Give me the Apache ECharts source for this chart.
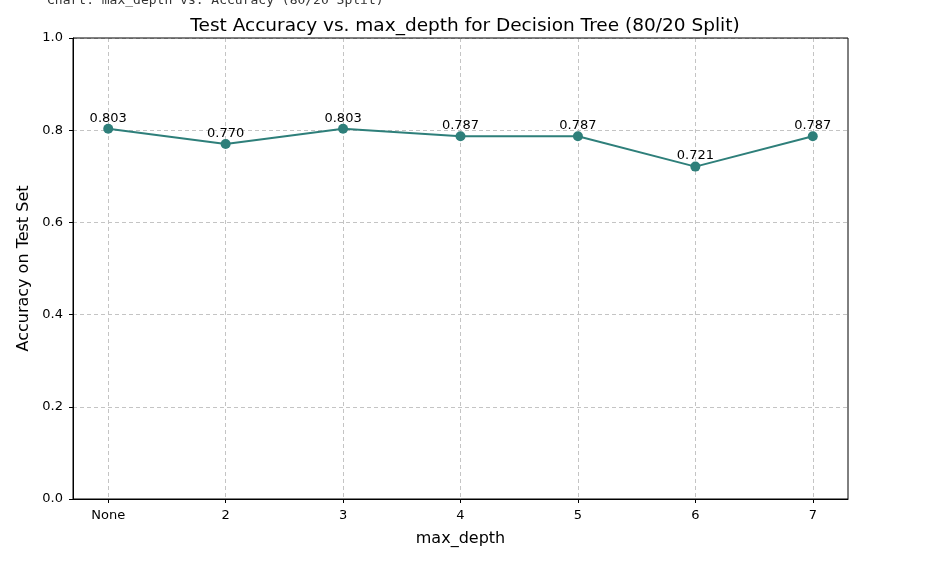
<!DOCTYPE html>
<html>
<head>
<meta charset="utf-8">
<script src="https://cdn.jsdelivr.net/npm/echarts@6/dist/echarts.min.js"></script>
<style>
  html, body { margin: 0; padding: 0; background: #fff; }
  #chart { width: 946px; height: 562px; }
</style>
</head>
<body>
<div id="chart"></div>
<script>
// 类目与数值:max_depth 取值及对应测试集准确率
var categories = ["None", "2", "3", "4", "5", "6", "7"];
var accuracy = [0.803, 0.770, 0.803, 0.787, 0.787, 0.721, 0.787];
var yTicks = [0, 0.2, 0.4, 0.6, 0.8, 1.0];

var LINE = "#2e7f7a";
var FONT = "DejaVu Sans";
var GRID_LINE = { show: true, lineStyle: { color: "#c4c4c4", type: [4, 3], width: 1 } };

var chart = echarts.init(document.getElementById("chart"), null, { renderer: "canvas" });

// 用索引作 x 值,x 轴与 matplotlib 一样留 0.3 的边距
var points = accuracy.map(function (v, i) { return [i, v]; });
var xIdx = categories.map(function (c, i) { return i; });

chart.setOption({
  animation: false,
  backgroundColor: "#fff",
  title: [
    { text: "Chart: max_depth vs. Accuracy (80/20 Split)", left: 42, top: -11,
      textStyle: { fontFamily: "DejaVu Sans Mono", fontSize: 13, fontWeight: "normal", color: "#333" } },
    { text: "Test Accuracy vs. max_depth for Decision Tree (80/20 Split)", left: 460, top: 12, textAlign: "center",
      textStyle: { fontFamily: FONT, fontSize: 18.5, fontWeight: "normal", color: "#000" } }
  ],
  grid: { left: 73, right: 98, top: 38, bottom: 63, containLabel: false },
  xAxis: {
    type: "value", min: -0.3, max: 6.3,
    name: "max_depth", nameLocation: "middle", nameGap: 32,
    nameTextStyle: { fontFamily: FONT, fontSize: 16, color: "#000" },
    axisLine: { show: true, onZero: false, lineStyle: { color: "#000", width: 1 } },
    axisTick: { show: true, length: 4, lineStyle: { color: "#000" }, customValues: xIdx },
    axisLabel: { fontFamily: FONT, fontSize: 13, color: "#000", margin: 10,
      customValues: xIdx,
      formatter: function (v) { return categories[Math.round(v)] || ""; } },
    splitLine: GRID_LINE
  },
  yAxis: {
    type: "value", min: 0, max: 1, interval: 0.2,
    name: "Accuracy on Test Set", nameLocation: "middle", nameGap: 35,
    nameTextStyle: { fontFamily: FONT, fontSize: 16, color: "#000" },
    axisLine: { show: true, onZero: false, lineStyle: { color: "#000", width: 1 } },
    axisTick: { show: true, length: 4, lineStyle: { color: "#000" } },
    axisLabel: { fontFamily: FONT, fontSize: 13, color: "#000", margin: 10,
      formatter: function (v) { return v.toFixed(1); } },
    splitLine: GRID_LINE
  },
  series: [{
    type: "line", data: points,
    symbol: "circle", symbolSize: 10,
    lineStyle: { color: LINE, width: 2 },
    itemStyle: { color: LINE },
    label: { show: true, position: "top", distance: -1, fontFamily: FONT, fontSize: 13, color: "#000",
      formatter: function (p) { return p.data[1].toFixed(3); } }
  }],
  graphic: [{
    type: "rect", shape: { x: 73, y: 38, width: 775, height: 461 },
    style: { fill: "none", stroke: "#000", lineWidth: 1 }, silent: true, z: 100
  }]
});
</script>
</body>
</html>
